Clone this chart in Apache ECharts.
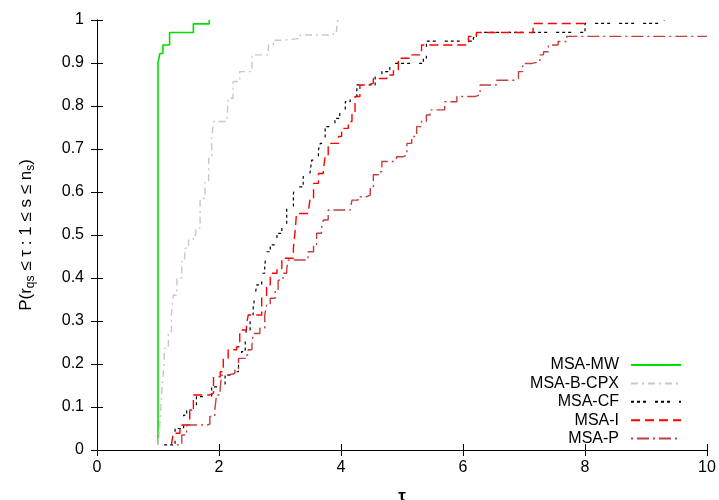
<!DOCTYPE html>
<html>
<head>
<meta charset="utf-8">
<style>
  html, body { margin: 0; padding: 0; background: #fff; }
  #chart { width: 719px; height: 500px; }
</style>
<script src="https://cdn.jsdelivr.net/npm/echarts@6/dist/echarts.min.js"></script>
</head>
<body>
<div id="chart"></div>
<script>
// Performance profiles: fraction of problems solved within a factor tau of the best.
const seriesNames = ['MSA-MW', 'MSA-B-CPX', 'MSA-CF', 'MSA-I', 'MSA-P'];

const mwTau = [1.0, 1.0, 1.03, 1.08, 1.19, 1.58, 1.84];
const mwP   = [0.012, 0.901, 0.922, 0.942, 0.971, 0.991, 1.0];

const cpxTau = [1.0, 1.03, 1.06, 1.09, 1.11, 1.17, 1.22, 1.25, 1.31, 1.39, 1.44, 1.5, 1.58, 1.62, 1.69, 1.77, 1.83, 1.88, 1.91, 2.13, 2.15, 2.23, 2.34, 2.54, 2.81, 2.89, 3.05, 3.33, 3.87, 3.93, 3.95];
const cpxP   = [0.012, 0.058, 0.128, 0.19, 0.237, 0.275, 0.314, 0.36, 0.4, 0.438, 0.469, 0.488, 0.5, 0.516, 0.585, 0.624, 0.678, 0.725, 0.764, 0.771, 0.818, 0.857, 0.88, 0.919, 0.942, 0.953, 0.957, 0.965, 0.973, 0.992, 1.0];

const cfTau = [1.1, 1.28, 1.42, 1.47, 1.63, 1.88, 2.02, 2.1, 2.18, 2.32, 2.37, 2.43, 2.45, 2.51, 2.56, 2.59, 2.62, 2.7, 2.75, 2.78, 2.84, 2.95, 3.03, 3.11, 3.22, 3.25, 3.38, 3.49, 3.52, 3.63, 3.66, 3.74, 3.9, 3.98, 4.07, 4.15, 4.26, 4.56, 4.67, 4.8, 5.35, 5.4, 6.17, 6.22, 8.0, 9.3];
const cfP   = [0.012, 0.05, 0.081, 0.093, 0.124, 0.147, 0.151, 0.174, 0.182, 0.213, 0.229, 0.267, 0.279, 0.314, 0.33, 0.36, 0.384, 0.411, 0.43, 0.461, 0.477, 0.504, 0.519, 0.566, 0.597, 0.612, 0.636, 0.643, 0.674, 0.698, 0.713, 0.752, 0.771, 0.783, 0.81, 0.822, 0.849, 0.872, 0.88, 0.899, 0.911, 0.951, 0.959, 0.971, 0.992, 1.0];

const iTau = [1.22, 1.25, 1.36, 1.52, 1.58, 1.85, 1.91, 2.02, 2.07, 2.15, 2.29, 2.34, 2.45, 2.48, 2.7, 2.73, 2.78, 2.84, 2.95, 3.03, 3.22, 3.25, 3.27, 3.46, 3.49, 3.55, 3.63, 3.71, 3.74, 3.79, 3.96, 4.01, 4.12, 4.18, 4.23, 4.31, 4.45, 4.53, 4.75, 4.86, 4.94, 5.13, 5.32, 6.09, 6.22, 7.15, 8.0];
const iP   = [0.012, 0.039, 0.058, 0.093, 0.128, 0.132, 0.17, 0.182, 0.213, 0.233, 0.24, 0.279, 0.291, 0.314, 0.353, 0.36, 0.384, 0.411, 0.422, 0.446, 0.469, 0.512, 0.55, 0.55, 0.581, 0.62, 0.643, 0.651, 0.682, 0.713, 0.729, 0.748, 0.764, 0.783, 0.822, 0.849, 0.853, 0.864, 0.872, 0.884, 0.911, 0.919, 0.942, 0.962, 0.971, 0.992, 1.0];

const pTau = [1.31, 1.39, 1.47, 1.8, 1.85, 1.93, 1.96, 2.02, 2.04, 2.13, 2.26, 2.32, 2.43, 2.48, 2.54, 2.56, 2.67, 2.75, 2.78, 2.84, 2.92, 2.97, 3.05, 3.11, 3.14, 3.41, 3.46, 3.55, 3.6, 3.68, 3.71, 3.79, 4.15, 4.18, 4.28, 4.42, 4.48, 4.53, 4.61, 4.67, 4.86, 4.91, 5.02, 5.08, 5.16, 5.24, 5.32, 5.4, 5.46, 5.7, 5.9, 6.2, 6.28, 6.55, 6.85, 6.91, 6.98, 7.13, 7.26, 7.32, 7.4, 7.56, 7.7, 10.0];
const pP   = [0.012, 0.035, 0.058, 0.06, 0.078, 0.093, 0.128, 0.143, 0.174, 0.178, 0.186, 0.213, 0.221, 0.233, 0.244, 0.271, 0.283, 0.314, 0.337, 0.353, 0.368, 0.395, 0.411, 0.422, 0.442, 0.442, 0.461, 0.477, 0.504, 0.516, 0.535, 0.558, 0.562, 0.581, 0.589, 0.593, 0.612, 0.64, 0.647, 0.671, 0.674, 0.682, 0.686, 0.713, 0.729, 0.752, 0.764, 0.779, 0.791, 0.81, 0.822, 0.826, 0.849, 0.86, 0.864, 0.88, 0.899, 0.903, 0.919, 0.926, 0.942, 0.95, 0.962, 0.962];

const xTicks = { min: 0, max: 10, interval: 2 };
const yTicks = { min: 0, max: 1, interval: 0.1 };

const pair = (xs, ys) => xs.map((x, i) => [x, ys[i]]);

const FONT = '"Liberation Sans", Arial, sans-serif';

function stepSeries(name, xs, ys, color, width, dash) {
  return {
    name: name,
    type: 'line',
    step: 'end',
    data: pair(xs, ys),
    symbol: 'none',
    animation: false,
    lineStyle: { color: color, width: width, type: dash },
    itemStyle: { color: color },
    z: 3
  };
}

const frameAxis = (extra) => Object.assign({
  type: 'value',
  axisLine: { show: true, lineStyle: { color: '#000', width: 1 } },
  axisTick: { show: true, inside: true, length: 6, lineStyle: { color: '#000', width: 1 } },
  splitLine: { show: false }
}, extra);

const chart = echarts.init(document.getElementById('chart'), null, { renderer: 'canvas' });
chart.setOption({
  backgroundColor: '#fff',
  textStyle: { fontFamily: FONT },
  grid: { left: 97, right: 12, top: 20, bottom: 50, containLabel: false, outerBoundsMode: 'none' },
  legend: {
    orient: 'vertical',
    right: 32,
    top: 352,
    align: 'right',
    itemWidth: 50,
    itemHeight: 14,
    itemGap: 2.4,
    itemStyle: { opacity: 0 },
    textStyle: { fontFamily: FONT, fontSize: 16, color: '#000', padding: [0, 7, 0, 0] },
    data: seriesNames
  },
  xAxis: [
    frameAxis({
      min: xTicks.min, max: xTicks.max, interval: xTicks.interval,
      position: 'bottom',
      axisLabel: { color: '#000', fontSize: 16, fontFamily: FONT, margin: 10 },
      name: 'τ',
      nameLocation: 'middle',
      nameGap: 38,
      nameTextStyle: { color: '#000', fontSize: 17, fontWeight: 'bold', fontFamily: FONT }
    }),
    frameAxis({
      min: xTicks.min, max: xTicks.max, interval: xTicks.interval,
      position: 'top',
      axisLabel: { show: false }
    })
  ],
  yAxis: [
    frameAxis({
      min: yTicks.min, max: yTicks.max, interval: yTicks.interval,
      position: 'left',
      axisLabel: { color: '#000', fontSize: 16, fontFamily: FONT, margin: 13 },
      name: 'P(r{s|qs} ≤ τ : 1 ≤ s ≤ n{s|s})',
      nameLocation: 'middle',
      nameGap: 82,
      nameRotate: 90,
      nameTextStyle: {
        color: '#000', fontSize: 17, fontFamily: FONT,
        verticalAlign: 'top', lineHeight: 22,
        rich: {
          s: { fontSize: 12, fontFamily: FONT, color: '#000', verticalAlign: 'bottom', lineHeight: 22 }
        }
      }
    }),
    frameAxis({
      min: yTicks.min, max: yTicks.max, interval: yTicks.interval,
      position: 'right',
      axisLabel: { show: false }
    })
  ],
  series: [
    stepSeries('MSA-MW', mwTau, mwP, '#00e000', 1.6, 'solid'),
    stepSeries('MSA-B-CPX', cpxTau, cpxP, '#c8c8c8', 1.4, [7, 4, 2, 4]),
    stepSeries('MSA-CF', cfTau, cfP, '#000000', 1.2, [3, 3, 3, 3, 3, 9]),
    stepSeries('MSA-I', iTau, iP, '#ff0000', 1.4, [9, 5]),
    stepSeries('MSA-P', pTau, pP, '#c04040', 1.4, [2, 4, 12, 4])
  ]
});
</script>
</body>
</html>
